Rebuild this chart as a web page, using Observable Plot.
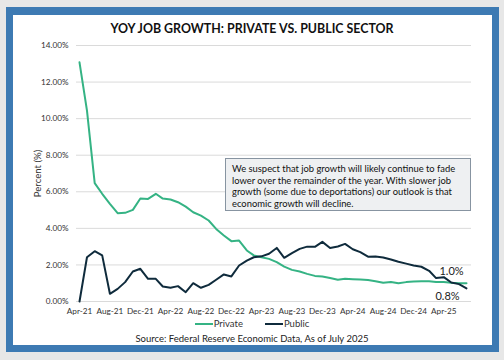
<!DOCTYPE html>
<html>
<head>
<meta charset="utf-8">
<script src="https://cdn.jsdelivr.net/npm/d3@7"></script>
<script src="https://cdn.jsdelivr.net/npm/@observablehq/plot@0.6"></script>
<style>
  html, body { margin: 0; padding: 0; }
  body { width: 504px; height: 360px; background: #e7e7e7; position: relative; overflow: hidden; font-family: Lato, "Open Sans", sans-serif; }
  #frame { position: absolute; left: 6px; top: 7px; width: 493px; height: 345px; box-sizing: border-box; border: 7px solid #3d7ab3; border-top-width: 8px; background: #fff; }
  #title { position: absolute; left: 0; width: 504px; top: 21px; text-align: center; font-weight: 700; font-size: 12.4px; color: #111; }
  #chart { position: absolute; left: 0; top: 0; }
  #note { position: absolute; left: 225px; top: 158px; width: 246px; height: 53px; box-sizing: border-box; background: #eef0f2; border: 1.5px solid #8794a1; padding: 4px 6px; font-size: 9.4px; line-height: 11.6px; color: #111; white-space: nowrap; }
  #legend { position: absolute; left: 0; width: 504px; top: 318px; display: flex; justify-content: center; gap: 22px; font-size: 9.5px; color: #333; }
  #legend span.item { display: flex; align-items: center; }
  #legend span.sw { display: inline-block; width: 18px; height: 2px; margin-right: 1px; }
  #source { position: absolute; left: 0; width: 504px; top: 333px; text-align: center; font-size: 9.5px; color: #222; }
</style>
</head>
<body>
<div id="frame"></div>
<div id="title">YOY JOB GROWTH: PRIVATE VS. PUBLIC SECTOR</div>
<div id="chart"></div>
<div id="note">We suspect that job growth will likely continue to fade<br>lower over the remainder of the year. With slower job<br>growth (some due to deportations) our outlook is that<br>economic growth will decline.</div>
<div id="legend"></div>
<div id="source">Source: Federal Reserve Economic Data, As of July 2025</div>
<script>
// ---- data (YoY %, monthly Apr-21 .. Jul-25) ----
const seriesNames = ["Private", "Public"];
const seriesColors = ["#35b384", "#0f2b3c"];
const privateValues = [
  13.08, 10.44, 6.47, 5.89, 5.34, 4.83, 4.85, 5.01, 5.63, 5.61, 5.89, 5.63,
  5.58, 5.43, 5.19, 4.88, 4.70, 4.43, 3.97, 3.61, 3.30, 3.33, 2.79, 2.52,
  2.42, 2.33, 2.15, 1.91, 1.73, 1.64, 1.51, 1.40, 1.37, 1.29, 1.19, 1.24,
  1.22, 1.20, 1.17, 1.11, 1.02, 1.07, 1.00, 1.06, 1.09, 1.11, 1.11, 1.07,
  1.06, 1.02, 1.00, 1.00
];
const publicValues = [
  0.00, 2.42, 2.75, 2.52, 0.42, 0.69, 1.06, 1.64, 1.79, 1.24, 1.24, 0.82,
  0.75, 0.84, 0.51, 1.00, 0.75, 0.91, 1.19, 1.48, 1.37, 1.97, 2.24, 2.42,
  2.47, 2.61, 2.93, 2.39, 2.65, 2.88, 3.00, 2.99, 3.26, 2.93, 3.01, 3.15,
  2.86, 2.70, 2.45, 2.46, 2.41, 2.30, 2.17, 2.07, 1.97, 1.90, 1.68, 1.28,
  1.33, 1.04, 0.95, 0.72
];
const tickLabels = ["Apr-21","Aug-21","Dec-21","Apr-22","Aug-22","Dec-22","Apr-23","Aug-23","Dec-23","Apr-24","Aug-24","Dec-24","Apr-25"];
const yTicks = [0, 2, 4, 6, 8, 10, 12, 14];
const endLabels = ["1.0%", "0.8%"];

// ---- build tables ----
const months = d3.utcMonth.range(new Date(Date.UTC(2021, 3, 1)), new Date(Date.UTC(2025, 7, 1)));
const parse = d3.utcParse("%b-%y");
const tickDates = tickLabels.map(parse);
const rows = [];
[privateValues, publicValues].forEach((vals, s) => vals.forEach((v, i) => rows.push({date: months[i], value: v, series: seriesNames[s]})));
const lastRows = [privateValues, publicValues].map((vals, s) => ({date: months[vals.length - 1], value: vals[vals.length - 1], series: seriesNames[s], label: endLabels[s]}));

const chart = Plot.plot({
  width: 504,
  height: 320,
  marginLeft: 76,
  marginRight: 33,
  marginTop: 45,
  marginBottom: 19,
  style: {fontFamily: "Lato, 'Open Sans', sans-serif", background: "transparent", overflow: "visible"},
  x: {type: "utc", domain: [months[0], months[months.length - 1]], insetLeft: 3, insetRight: 5},
  y: {domain: [0, 14]},
  color: {domain: seriesNames, range: seriesColors},
  marks: [
    Plot.gridY(yTicks, {stroke: "#dadada", strokeOpacity: 1, strokeWidth: 1}),
    Plot.axisY(yTicks, {tickSize: 0, tickPadding: 8, tickFormat: d => d.toFixed(2) + "%", fontSize: 8.2, fill: "#333", label: null}),
    Plot.axisY([], {tickSize: 0, label: "Percent (%)", labelAnchor: "center", labelOffset: 42, labelArrow: "none", fontSize: 9.6, fill: "#333"}),
    Plot.axisX(tickDates, {tickSize: 0, tickPadding: 7, tickFormat: d3.utcFormat("%b-%y"), fontSize: 8.2, fill: "#333", label: null}),
    Plot.line(rows, {x: "date", y: "value", z: "series", stroke: "series", strokeWidth: 2}),
    Plot.text([lastRows[0]], {x: "date", y: "value", text: "label", dx: -15, dy: -12, fontSize: 11, fill: "#222"}),
    Plot.text([lastRows[1]], {x: "date", y: "value", text: "label", dx: -19, dy: 8, fontSize: 11, fill: "#222"})
  ]
});
document.getElementById("chart").appendChild(chart);

// legend
const legend = document.getElementById("legend");
seriesNames.forEach((n, i) => {
  const item = document.createElement("span");
  item.className = "item";
  const sw = document.createElement("span");
  sw.className = "sw";
  sw.style.background = seriesColors[i];
  item.appendChild(sw);
  item.appendChild(document.createTextNode(n));
  legend.appendChild(item);
});
</script>
</body>
</html>
